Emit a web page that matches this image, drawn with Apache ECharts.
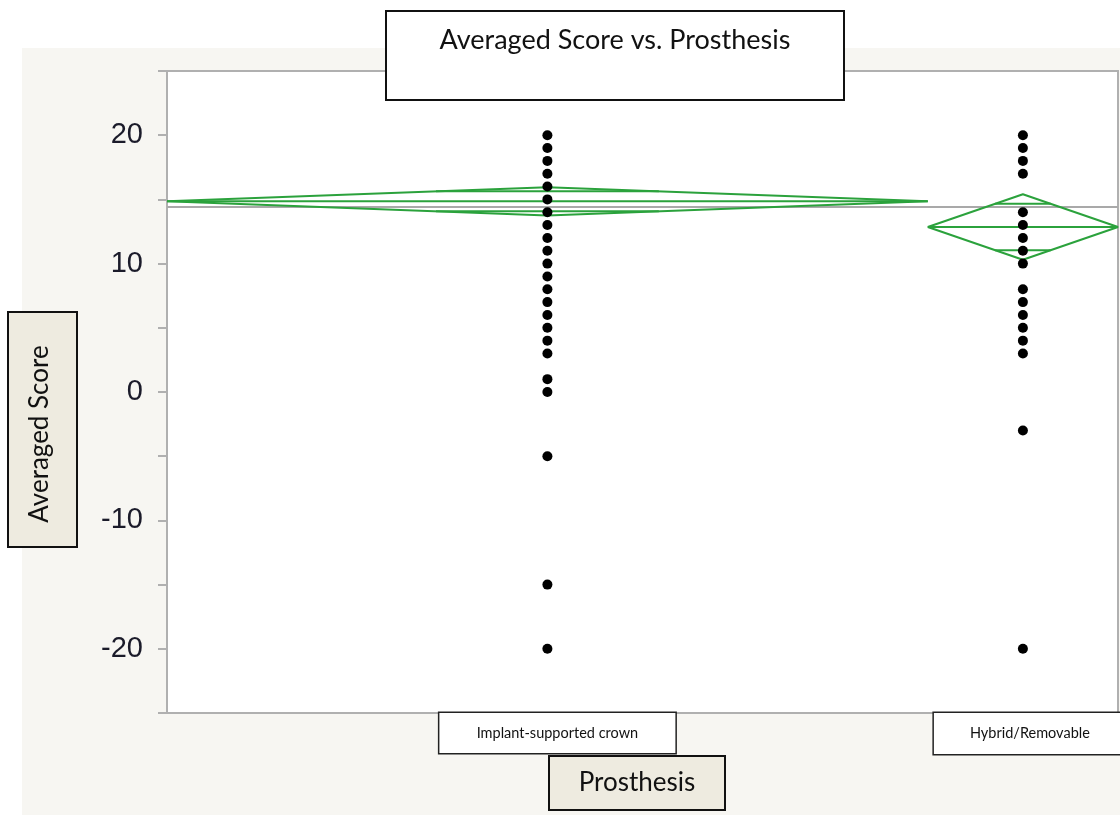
<!DOCTYPE html>
<html>
<head>
<meta charset="utf-8">
<script src="https://cdn.jsdelivr.net/npm/echarts@6/dist/echarts.min.js"></script>
<style>
html,body{margin:0;padding:0;background:#ffffff;}
#chart{width:1120px;height:815px;}
</style>
</head>
<body>
<div id="chart"></div>
<script>
// ---- data ----
var categories = ['Implant-supported crown', 'Hybrid/Removable'];
var groupWidths = [80, 20];            // relative group sizes (x-axis widths)
var groupMeans = [14.85, 12.85];
var groupCIHalf = [1.1, 2.55];
var grandMean = 14.4;
var pointsGroup1 = [20, 19, 18, 17, 16, 15, 14, 13, 12, 11, 10, 9, 8, 7, 6, 5, 4, 3, 1, 0, -5, -15, -20];
var pointsGroup2 = [20, 19, 18, 17, 14, 13, 12, 11, 10, 8, 7, 6, 5, 4, 3, -3, -20];
var yTicks = [-20, -10, 0, 10, 20];
var titleText = 'Averaged Score vs. Prosthesis';
var yTitle = 'Averaged Score';
var xTitle = 'Prosthesis';

var pointSets = [pointsGroup1, pointsGroup2];
var totalW = groupWidths.reduce(function (a, b) { return a + b; }, 0);
var green = '#2ba23c';

var series = [];
var starts = [];
var centers = [];
var acc = 0;
for (var i = 0; i < groupWidths.length; i++) {
  starts.push(acc);
  centers.push(acc + groupWidths[i] / 2);
  acc += groupWidths[i];
}

// grand mean line
series.push({
  type: 'line', data: [[0, grandMean], [totalW, grandMean]],
  symbol: 'none', lineStyle: { color: '#a9a9a9', width: 2 }, z: 2, silent: true
});

for (var g = 0; g < groupWidths.length; g++) {
  var x0 = starts[g], x1 = starts[g] + groupWidths[g], xc = centers[g];
  var m = groupMeans[g], ci = groupCIHalf[g];
  var k = ci / Math.SQRT2;
  var h = (groupWidths[g] / 2) * (1 - 1 / Math.SQRT2);
  var ls = { color: green, width: 2 };
  series.push({ type: 'line', data: [[x0, m], [xc, m + ci], [x1, m], [xc, m - ci], [x0, m]], symbol: 'none', lineStyle: ls, z: 3, silent: true });
  series.push({ type: 'line', data: [[x0, m], [x1, m]], symbol: 'none', lineStyle: ls, z: 3, silent: true });
  series.push({ type: 'line', data: [[xc - h, m + k], [xc + h, m + k]], symbol: 'none', lineStyle: ls, z: 3, silent: true });
  series.push({ type: 'line', data: [[xc - h, m - k], [xc + h, m - k]], symbol: 'none', lineStyle: ls, z: 3, silent: true });
  series.push({
    type: 'scatter',
    data: pointSets[g].map(function (v) { return [xc, v]; }),
    symbolSize: 10, itemStyle: { color: '#000000', opacity: 1 }, z: 5
  });
}

var boxFont = 'Lato, "Open Sans", sans-serif';
var chart = echarts.init(document.getElementById('chart'), null, { renderer: 'canvas' });
chart.setOption({
  animation: false,
  backgroundColor: '#ffffff',
  graphic: [
    { type: 'rect', z: -10, shape: { x: 22, y: 48, width: 1100, height: 770 }, style: { fill: '#f7f6f2' } },
    { type: 'rect', z: 100, shape: { x: 386, y: 11, width: 458, height: 89 }, style: { fill: '#ffffff', stroke: '#111111', lineWidth: 2 } },
    { type: 'text', z: 101, x: 615, y: 40, style: { text: titleText, font: '27px ' + boxFont, fill: '#111111', textAlign: 'center', textVerticalAlign: 'middle' } },
    { type: 'rect', z: 100, shape: { x: 8, y: 312, width: 69, height: 235 }, style: { fill: '#eeebe0', stroke: '#111111', lineWidth: 2 } },
    { type: 'text', z: 101, x: 40, y: 434, rotation: Math.PI / 2, style: { text: yTitle, font: '26px ' + boxFont, fill: '#111111', textAlign: 'center', textVerticalAlign: 'middle' } },
    { type: 'rect', z: 100, shape: { x: 549, y: 756, width: 176, height: 54 }, style: { fill: '#eeebe0', stroke: '#111111', lineWidth: 2 } },
    { type: 'text', z: 101, x: 637, y: 783, style: { text: xTitle, font: '26px ' + boxFont, fill: '#111111', textAlign: 'center', textVerticalAlign: 'middle' } }
  ],
  grid: {
    left: 167, right: 2, top: 71, bottom: 102,
    outerBoundsMode: 'none',
    containLabel: false,
    show: true, backgroundColor: '#ffffff', borderColor: '#b0b0b0', borderWidth: 2
  },
  xAxis: {
    type: 'value', min: 0, max: totalW,
    axisLine: { show: false }, axisTick: { show: false }, splitLine: { show: false },
    axisLabel: {
      show: true,
      customValues: centers,
      margin: 0,
      hideOverlap: false,
      formatter: function (v) {
        var idx = centers.indexOf(v);
        if (idx < 0) return '';
        return idx === 0 ? '{pa|}{a|' + categories[0] + '}' : '{pb|}{b|' + categories[1] + '}';
      },
      rich: {
        pa: { width: 20, height: 40 },
        pb: { width: 14, height: 41 },
        a: { width: 236, height: 40, align: 'center', verticalAlign: 'middle', backgroundColor: '#ffffff', borderColor: '#222222', borderWidth: 1.5, fontFamily: boxFont, fontSize: 14.5, color: '#111111' },
        b: { width: 192, height: 41, align: 'center', verticalAlign: 'middle', backgroundColor: '#ffffff', borderColor: '#222222', borderWidth: 1.5, fontFamily: boxFont, fontSize: 14.5, color: '#111111' }
      }
    }
  },
  yAxis: {
    type: 'value', min: -25, max: 25, interval: 5,
    axisLine: { show: true, lineStyle: { color: '#b0b0b0', width: 2 } },
    axisTick: { show: true, length: 9, lineStyle: { color: '#b0b0b0', width: 2 } },
    splitLine: { show: false },
    axisLabel: {
      margin: 24,
      fontFamily: '"Liberation Sans", Arial, sans-serif',
      fontSize: 29,
      color: '#1b1b2a',
      formatter: function (v) { return yTicks.indexOf(v) >= 0 ? String(v) : ''; }
    }
  },
  series: series
});
</script>
</body>
</html>
